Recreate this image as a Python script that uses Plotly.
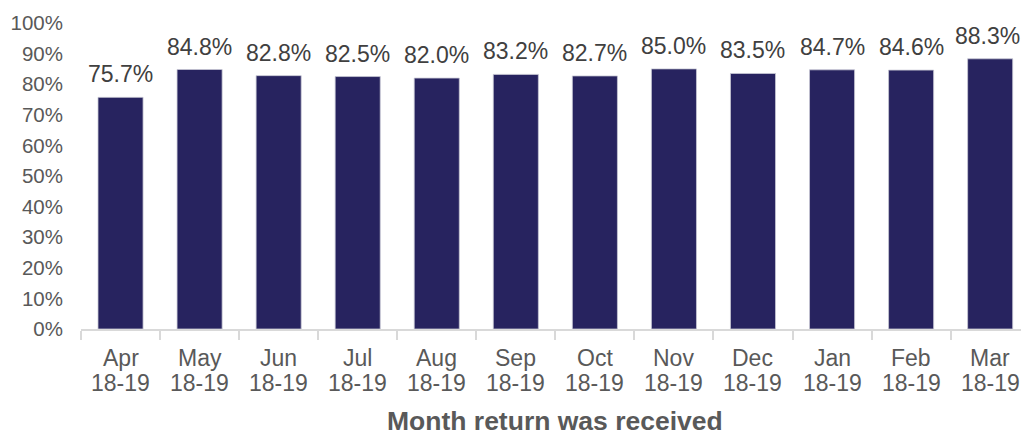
import plotly.graph_objects as go

months = ["Apr", "May", "Jun", "Jul", "Aug", "Sep", "Oct", "Nov", "Dec", "Jan", "Feb", "Mar"]
year_label = "18-19"
values = [75.7, 84.8, 82.8, 82.5, 82.0, 83.2, 82.7, 85.0, 83.5, 84.7, 84.6, 88.3]
y_ticks = list(range(0, 101, 10))

FONT = "Liberation Sans, Arial, sans-serif"

fig = go.Figure(go.Bar(
    x=months, y=values,
    marker=dict(color="#27235F", line=dict(color="#C8C8D4", width=0.8)),
    hoverinfo="x+y",
))

annotations = []
# value labels above bars
for i, (m, v) in enumerate(zip(months, values)):
    annotations.append(dict(
        x=m, y=v, xref="x", yref="y", text=f"{v:.1f}%", showarrow=False,
        yanchor="bottom", yshift=8, xshift=-3 if i == len(months) - 1 else 0,
        font=dict(family=FONT, size=23, color="#404040"),
    ))
# two-line category labels
for m in months:
    annotations.append(dict(
        x=m, y=0, xref="x", yref="paper", text=m, showarrow=False,
        yanchor="middle", yshift=-29,
        font=dict(family=FONT, size=23, color="#595959"),
    ))
    annotations.append(dict(
        x=m, y=0, xref="x", yref="paper", text=year_label, showarrow=False,
        yanchor="middle", yshift=-54,
        font=dict(family=FONT, size=23, color="#595959"),
    ))
# axis title
annotations.append(dict(
    x=5.5, y=0, xref="x", yref="paper", text="<b>Month return was received</b>",
    showarrow=False, yanchor="middle", yshift=-92, borderpad=0,
    font=dict(family=FONT, size=26.5, color="#595959"),
))

fig.update_layout(
    width=1021, height=437,
    margin=dict(l=81, r=0, t=23, b=108),
    plot_bgcolor="white", paper_bgcolor="white",
    bargap=0.43,
    showlegend=False,
    font=dict(family=FONT, size=20, color="#595959"),
    annotations=annotations,
    xaxis=dict(
        type="category",
        range=[-0.5, 11.39],
        automargin=False,
        showline=True, linecolor="#D9D9D9", linewidth=2,
        ticks="outside", tickson="boundaries", ticklen=9, tickcolor="#D9D9D9", tickwidth=2,
        showticklabels=False,
        showgrid=False,
    ),
    yaxis=dict(
        range=[0, 100],
        automargin=False,
        tickvals=y_ticks,
        ticktext=[f"{t}%" for t in y_ticks],
        showgrid=False, zeroline=False, showline=False,
        ticks="", ticklabelstandoff=17,
        tickfont=dict(family=FONT, size=20.5, color="#595959"),
    ),
)

fig.write_html(
    "out.html",
    config={"displayModeBar": False},
    post_script="document.body.style.margin='0';document.body.style.overflow='hidden';",
)
